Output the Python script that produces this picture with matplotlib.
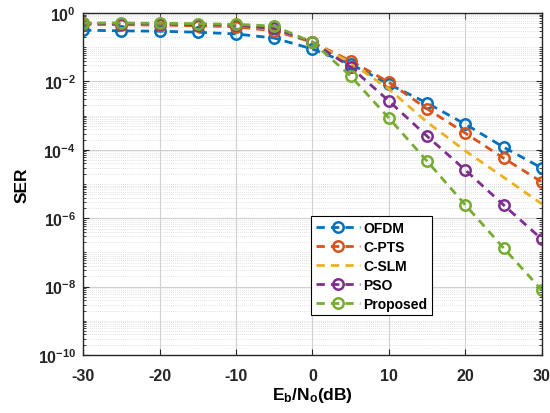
import numpy as np
import matplotlib
matplotlib.use("Agg")
from matplotlib import pyplot as plt
from matplotlib.ticker import LogLocator, FixedLocator, NullFormatter

# Eb/No in dB
ebno = [-30, -25, -20, -15, -10, -5, 0, 5, 10, 15, 20, 25, 30]

# log10(SER)
ofdm_log = [-0.50, -0.52, -0.53, -0.56, -0.61, -0.73, -1.05, -1.49, -2.08, -2.63, -3.25, -3.92, -4.53]
cpts_log = [-0.33, -0.34, -0.35, -0.37, -0.40, -0.52, -0.85, -1.40, -2.02, -2.80, -3.51, -4.24, -4.94]
cslm_log = [-0.30, -0.31, -0.32, -0.34, -0.37, -0.47, -0.85, -1.45, -2.22, -3.19, -4.03, -4.80, -5.58]
pso_log = [-0.30, -0.31, -0.32, -0.34, -0.36, -0.45, -0.85, -1.58, -2.57, -3.60, -4.59, -5.61, -6.61]
prop_log = [-0.29, -0.29, -0.30, -0.31, -0.33, -0.38, -0.85, -1.84, -3.07, -4.33, -5.61, -6.87, -8.10]

labels = ["OFDM", "C-PTS", "C-SLM", "PSO", "Proposed"]
colors = ["#0072BD", "#D95319", "#EDB120", "#7E2F8E", "#77AC30"]
has_marker = [True, True, False, True, True]

plt.rcParams["font.family"] = ["Liberation Sans", "DejaVu Sans"]
plt.rcParams["font.weight"] = "bold"
plt.rcParams["axes.unicode_minus"] = False
plt.rcParams["mathtext.fontset"] = "custom"
plt.rcParams["mathtext.rm"] = "Liberation Sans:bold"
plt.rcParams["mathtext.it"] = "Liberation Sans:bold"
plt.rcParams["mathtext.bf"] = "Liberation Sans:bold"

fig = plt.figure(figsize=(5.5, 4.14), dpi=100)
ax = fig.add_axes([0.151, 0.140, 0.834, 0.826])

series = [ofdm_log, cpts_log, cslm_log, pso_log, prop_log]
for s, lab, c, mk in zip(series, labels, colors, has_marker):
    ax.semilogy(ebno, 10.0 ** np.array(s), linestyle=(0, (3, 2.2)), color=c, lw=2,
                marker="o" if mk else None, markersize=7.5, markerfacecolor="none",
                markeredgewidth=1.8, label=lab)

ax.set_xlim(-30, 30)
ax.set_ylim(1e-10, 1)
ax.set_xticks([-30, -20, -10, 0, 10, 20, 30])
ax.yaxis.set_major_locator(FixedLocator([1e-10, 1e-8, 1e-6, 1e-4, 1e-2, 1e0]))
ax.yaxis.set_minor_locator(LogLocator(base=10, subs=np.arange(1, 10), numticks=30))
ax.yaxis.set_minor_formatter(NullFormatter())

ax.grid(True, which="major", color="#d0d0d0", lw=0.8, ls="-")
ax.grid(True, which="minor", axis="y", color="#d8d8d8", lw=0.6, ls=(0, (1, 1.5)))
ax.tick_params(which="both", direction="in", top=True, right=True, labelsize=11.5, colors="#262626")
ax.tick_params(which="major", length=4)
ax.tick_params(which="minor", length=2)
ax.tick_params(axis="x", pad=9)
ax.tick_params(axis="y", pad=5)
for sp in ax.spines.values():
    sp.set_color("#262626")
    sp.set_linewidth(1.0)

ax.set_xlabel("E$_b$/N$_o$(dB)", fontsize=12.5, fontweight="bold", labelpad=2)
ax.set_ylabel("SER", fontsize=12.5, fontweight="bold", labelpad=6)

leg = ax.legend(loc="upper left", bbox_to_anchor=(0.497, 0.406), fontsize=10,
                frameon=True, fancybox=False, edgecolor="black", framealpha=1,
                handlelength=3.2, borderpad=0.35, labelspacing=0.35, handletextpad=0.2,
                borderaxespad=0)
leg.get_frame().set_linewidth(0.8)
for t in leg.get_texts():
    t.set_fontweight("bold")

fig.savefig("out.png", dpi=100)
